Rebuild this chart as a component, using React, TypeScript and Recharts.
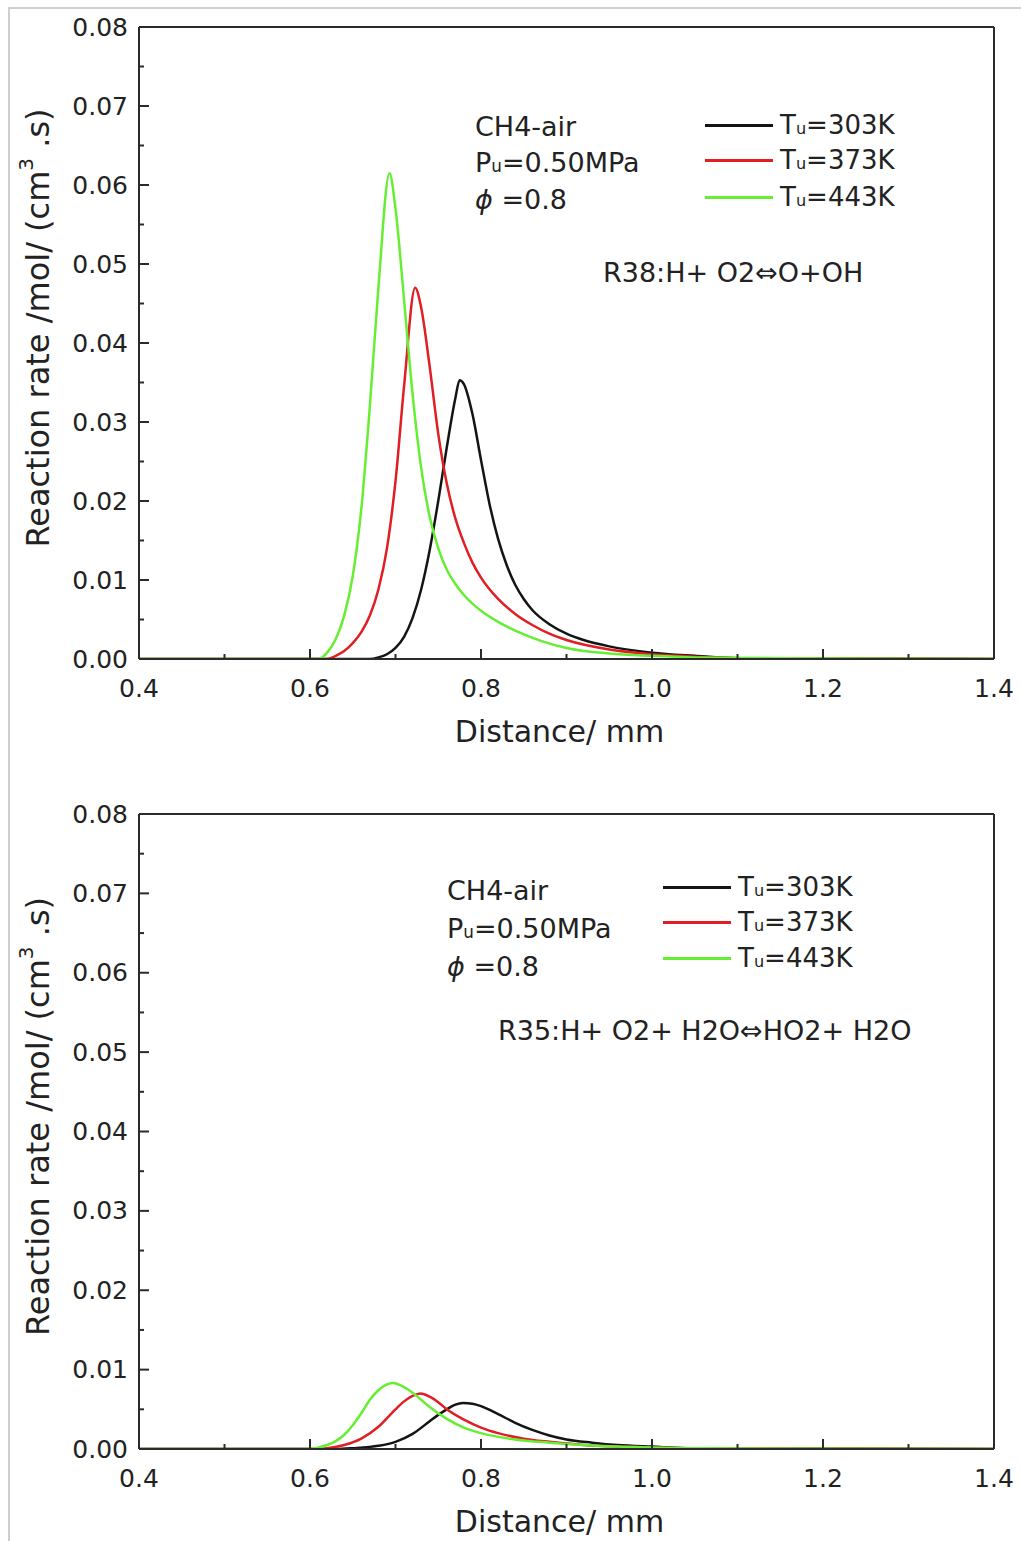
import React from 'react';
import { LineChart, Line, XAxis, YAxis, ReferenceLine, Label } from 'recharts';

// axis ticks
const xTicks = [0.4, 0.5, 0.6, 0.7, 0.8, 0.9, 1.0, 1.1, 1.2, 1.3, 1.4];
const yTicks = [0, 0.005, 0.01, 0.015, 0.02, 0.025, 0.03, 0.035, 0.04, 0.045, 0.05, 0.055, 0.06, 0.065, 0.07, 0.075, 0.08];

const seriesNames = ['303K', '373K', '443K'];
const seriesColors = ['#141414', '#e01e24', '#66ee33'];

// R38: H + O2 <=> O + OH
const r38Distance303 = [0.40, 0.67, 0.68, 0.69, 0.70, 0.71, 0.72, 0.73, 0.74, 0.75, 0.76, 0.77, 0.775, 0.78, 0.79, 0.80, 0.81, 0.82, 0.83, 0.84, 0.85, 0.86, 0.88, 0.90, 0.92, 0.95, 1.00, 1.05, 1.10, 1.40];
const r38Rate303 = [0, 0, 0.0002, 0.0006, 0.0014, 0.0028, 0.0052, 0.0088, 0.0138, 0.020, 0.0268, 0.033, 0.0353, 0.0348, 0.031, 0.0252, 0.0196, 0.0152, 0.0119, 0.0094, 0.0076, 0.0062, 0.0044, 0.0032, 0.0024, 0.0016, 0.0008, 0.0004, 0.0001, 0];

const r38Distance373 = [0.40, 0.62, 0.63, 0.64, 0.65, 0.66, 0.67, 0.68, 0.69, 0.70, 0.71, 0.723, 0.73, 0.74, 0.75, 0.76, 0.77, 0.78, 0.79, 0.80, 0.82, 0.84, 0.86, 0.88, 0.90, 0.95, 1.00, 1.05, 1.10, 1.40];
const r38Rate373 = [0, 0, 0.0004, 0.001, 0.002, 0.0034, 0.0055, 0.0088, 0.014, 0.0225, 0.0345, 0.047, 0.0445, 0.037, 0.0285, 0.0222, 0.0178, 0.0147, 0.0122, 0.0103, 0.0076, 0.0057, 0.0043, 0.0032, 0.0024, 0.0012, 0.0006, 0.0003, 0.0001, 0];

const r38Distance443 = [0.40, 0.61, 0.62, 0.63, 0.64, 0.65, 0.66, 0.67, 0.68, 0.693, 0.70, 0.71, 0.72, 0.73, 0.74, 0.75, 0.76, 0.77, 0.78, 0.80, 0.82, 0.84, 0.87, 0.90, 0.95, 1.00, 1.05, 1.15, 1.40];
const r38Rate443 = [0, 0, 0.0008, 0.0025, 0.0055, 0.0105, 0.019, 0.032, 0.047, 0.0615, 0.057, 0.0455, 0.0335, 0.0242, 0.018, 0.014, 0.0113, 0.0095, 0.0081, 0.0061, 0.0047, 0.0036, 0.0023, 0.0014, 0.0007, 0.0004, 0.0002, 0.0001, 0];

// R35: H + O2 + H2O <=> HO2 + H2O
const r35Distance303 = [0.40, 0.63, 0.65, 0.68, 0.70, 0.72, 0.74, 0.75, 0.76, 0.77, 0.779, 0.79, 0.80, 0.82, 0.84, 0.86, 0.88, 0.90, 0.93, 0.96, 1.00, 1.05, 1.40];
const r35Rate303 = [0, 0, 0.0001, 0.0004, 0.0009, 0.0019, 0.0035, 0.0043, 0.005, 0.0056, 0.0058, 0.0057, 0.0054, 0.0044, 0.0033, 0.0024, 0.0017, 0.0012, 0.0008, 0.0005, 0.0003, 0.0001, 0];

const r35Distance373 = [0.40, 0.61, 0.62, 0.64, 0.66, 0.68, 0.70, 0.71, 0.72, 0.729, 0.74, 0.75, 0.76, 0.78, 0.80, 0.82, 0.85, 0.88, 0.92, 0.96, 1.00, 1.05, 1.40];
const r35Rate373 = [0, 0, 0.0001, 0.0005, 0.0013, 0.0028, 0.005, 0.006, 0.0067, 0.007, 0.0066, 0.0059, 0.005, 0.0037, 0.0027, 0.002, 0.0013, 0.0009, 0.0005, 0.0003, 0.0002, 0.0001, 0];

const r35Distance443 = [0.40, 0.60, 0.61, 0.62, 0.63, 0.64, 0.65, 0.66, 0.67, 0.68, 0.697, 0.71, 0.72, 0.73, 0.74, 0.76, 0.78, 0.80, 0.84, 0.88, 0.92, 0.96, 1.00, 1.05, 1.40];
const r35Rate443 = [0, 0, 0.0002, 0.0005, 0.001, 0.0018, 0.003, 0.0045, 0.0062, 0.0074, 0.0083, 0.0078, 0.0071, 0.0062, 0.0053, 0.0038, 0.0027, 0.002, 0.0012, 0.0008, 0.0005, 0.0003, 0.0002, 0.0001, 0];

const toPoints = (dist: number[], rate: number[]) =>
  dist.map((d, i) => ({ distance: d, rate: rate[i] }));

const FONT = '"DejaVu Sans", "Liberation Sans", sans-serif';
const AXIS = '#2b2b2b';
const TEXT = '#222';

const XTick = (props: any) => {
  const { x, y, payload } = props;
  const v = payload.value as number;
  const major = Math.round(v * 10) % 2 === 0;
  return (
    <g>
      <line x1={x} y1={y} x2={x} y2={y - (major ? 10 : 5)} stroke={AXIS} strokeWidth={2} />
      {major && (
        <text x={x} y={y + 29} textAnchor="middle" dominantBaseline="central" fontSize={25} fill={TEXT}>
          {v.toFixed(1)}
        </text>
      )}
    </g>
  );
};

const YTick = (props: any) => {
  const { x, y, payload } = props;
  const v = payload.value as number;
  const major = Math.round(v * 1000) % 10 === 0;
  return (
    <g>
      <line x1={x} y1={y} x2={x + (major ? 10 : 5)} y2={y} stroke={AXIS} strokeWidth={2} />
      {major && (
        <text x={x - 11} y={y} textAnchor="end" dominantBaseline="central" fontSize={25} fill={TEXT}>
          {v.toFixed(2)}
        </text>
      )}
    </g>
  );
};

const XTitle = (props: any) => {
  const vb = props.viewBox;
  return (
    <text x={vb.x + vb.width / 2 - 7} y={vb.y + 72} textAnchor="middle" dominantBaseline="central" fontSize={30} fill={TEXT}>
      Distance/ mm
    </text>
  );
};

const YTitle = (props: any) => {
  const vb = props.viewBox;
  const cx = 38;
  const cy = vb.y + vb.height / 2 - 15;
  return (
    <text x={cx} y={cy} transform={`rotate(-90, ${cx}, ${cy})`} textAnchor="middle" dominantBaseline="central" fontSize={32} fill={TEXT}>
      <tspan>Reaction rate /mol/ (cm</tspan>
      <tspan dy={-12} fontSize={20}>3</tspan>
      <tspan dy={12}> .s)</tspan>
    </text>
  );
};

const Sub = ({ c }: { c: string }) => <span style={{ fontSize: '0.62em' }}>{c}</span>;

interface Layout {
  top: number;
  height: number;
  noteX: number;
  noteRows: number[];
  legendX: number;
  legendRows: number[];
  reactionX: number;
  reactionY: number;
}

interface PanelProps {
  layout: Layout;
  reaction: string;
  series: { name: string; color: string; points: { distance: number; rate: number }[] }[];
}

const abs = (left: number, cy: number): React.CSSProperties => ({
  position: 'absolute',
  left,
  top: cy,
  transform: 'translateY(-50%)',
  lineHeight: 1,
  whiteSpace: 'nowrap',
  fontSize: 27,
  color: TEXT,
});

const Panel: React.FC<PanelProps> = ({ layout, reaction, series }) => {
  const L = layout;
  return (
    <div style={{ position: 'absolute', left: 0, top: L.top, width: 1021, height: L.height }}>
      <LineChart width={1021} height={L.height} margin={{ top: 27, right: 27, left: 79, bottom: 11 }}>
        <XAxis
          type="number"
          dataKey="distance"
          domain={[0.4, 1.4]}
          ticks={xTicks}
          interval={0}
          allowDataOverflow
          height={90}
          tickSize={0}
          tickMargin={0}
          tickLine={false}
          tick={(p: any) => <XTick {...p} />}
          axisLine={{ stroke: AXIS, strokeWidth: 2 }}
        >
          <Label content={XTitle} />
        </XAxis>
        <YAxis
          type="number"
          domain={[0, 0.08]}
          ticks={yTicks}
          interval={0}
          allowDataOverflow
          width={60}
          tickSize={0}
          tickMargin={0}
          tickLine={false}
          tick={(p: any) => <YTick {...p} />}
          axisLine={{ stroke: AXIS, strokeWidth: 2 }}
        >
          <Label content={YTitle} />
        </YAxis>
        <ReferenceLine y={0.08} stroke={AXIS} strokeWidth={2} />
        <ReferenceLine x={1.4} stroke={AXIS} strokeWidth={2} />
        {series.map((s) => (
          <Line
            key={s.name}
            data={s.points}
            dataKey="rate"
            type="monotone"
            stroke={s.color}
            strokeWidth={2.5}
            dot={false}
            activeDot={false}
            isAnimationActive={false}
          />
        ))}
      </LineChart>

      <div style={abs(L.noteX, L.noteRows[0])}>CH4-air</div>
      <div style={abs(L.noteX, L.noteRows[1])}>P<Sub c="u" />=0.50MPa</div>
      <div style={abs(L.noteX, L.noteRows[2])}><i>ϕ</i> =0.8</div>

      {series.map((s, i) => (
        <React.Fragment key={s.name}>
          <div style={{ position: 'absolute', left: L.legendX, top: L.legendRows[i] - 1.5, width: 68, height: 3, background: s.color }} />
          <div style={{ ...abs(L.legendX + 75, L.legendRows[i]), fontSize: 26 }}>T<Sub c="u" />={s.name}</div>
        </React.Fragment>
      ))}

      <div style={abs(L.reactionX, L.reactionY)}>{reaction}</div>
    </div>
  );
};

const r38Series = [
  { name: seriesNames[0], color: seriesColors[0], points: toPoints(r38Distance303, r38Rate303) },
  { name: seriesNames[1], color: seriesColors[1], points: toPoints(r38Distance373, r38Rate373) },
  { name: seriesNames[2], color: seriesColors[2], points: toPoints(r38Distance443, r38Rate443) },
];

const r35Series = [
  { name: seriesNames[0], color: seriesColors[0], points: toPoints(r35Distance303, r35Rate303) },
  { name: seriesNames[1], color: seriesColors[1], points: toPoints(r35Distance373, r35Rate373) },
  { name: seriesNames[2], color: seriesColors[2], points: toPoints(r35Distance443, r35Rate443) },
];

export default function App() {
  return (
    <div style={{ position: 'absolute', left: 0, top: 0, width: 1021, height: 1541, background: '#fff', fontFamily: FONT, overflow: 'hidden' }}>
      <div style={{ position: 'absolute', left: 8, top: 7, width: 1013, height: 1534, borderTop: '2px solid #cfcfcf', borderLeft: '2px solid #cfcfcf', boxSizing: 'border-box' }} />
      <Panel
        layout={{ top: 0, height: 760, noteX: 475, noteRows: [126, 162, 199], legendX: 705, legendRows: [125, 160, 197], reactionX: 603, reactionY: 272 }}
        reaction="R38:H+ O2⇔O+OH"
        series={r38Series}
      />
      <Panel
        layout={{ top: 787, height: 763, noteX: 447, noteRows: [103, 141, 179], legendX: 663, legendRows: [100, 135, 171], reactionX: 498, reactionY: 243 }}
        reaction="R35:H+ O2+ H2O⇔HO2+ H2O"
        series={r35Series}
      />
    </div>
  );
}
